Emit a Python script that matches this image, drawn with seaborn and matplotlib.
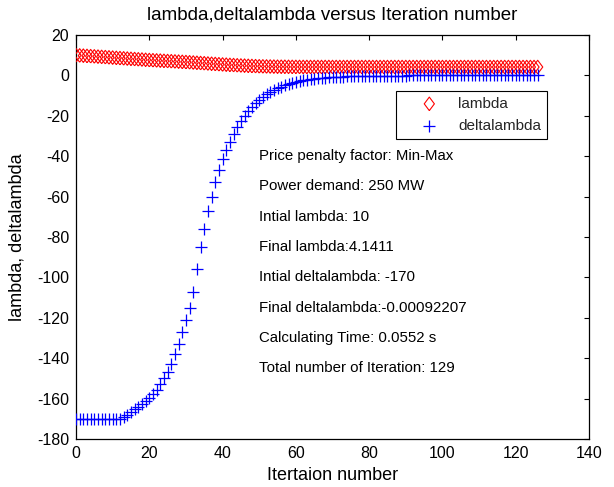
import numpy as np
import pandas as pd
import matplotlib
matplotlib.use("Agg")
import matplotlib.pyplot as plt
import seaborn as sns

# Iteration index and the two tracked quantities
iterations = np.arange(0, 127)

lambda_vals = [
    10.0, 9.88, 9.76, 9.64, 9.52, 9.40, 9.28, 9.16, 9.04, 8.92,
    8.80, 8.68, 8.56, 8.44, 8.32, 8.20, 8.08, 7.96, 7.84, 7.72,
    7.60, 7.50, 7.40, 7.30, 7.20, 7.10, 7.00, 6.90, 6.80, 6.70,
    6.60, 6.48, 6.36, 6.24, 6.12, 6.00, 5.88, 5.76, 5.64, 5.52,
    5.40, 5.30, 5.20, 5.10, 5.00, 4.90, 4.82, 4.74, 4.66, 4.58,
    4.50, 4.46, 4.42, 4.38, 4.34, 4.30, 4.28, 4.26, 4.24, 4.22,
    4.20, 4.19, 4.185, 4.18, 4.175, 4.17, 4.168, 4.165, 4.163, 4.16,
    4.158, 4.157, 4.156, 4.155, 4.154, 4.153, 4.152, 4.151, 4.150, 4.149,
    4.148, 4.147, 4.147, 4.146, 4.146, 4.145, 4.145, 4.144, 4.144, 4.144,
    4.143, 4.143, 4.143, 4.143, 4.143, 4.143, 4.143, 4.143, 4.143, 4.143,
    4.142, 4.142, 4.142, 4.142, 4.142, 4.142, 4.142, 4.142, 4.142, 4.142,
    4.1415, 4.1415, 4.1415, 4.1415, 4.1415, 4.1415, 4.1415, 4.1415, 4.1415, 4.1415,
    4.1412, 4.1412, 4.1411, 4.1411, 4.1411, 4.1411, 4.1411,
]

deltalambda_vals = [
    -170, -170, -170, -170, -170, -170, -170, -170, -170, -170,
    -170, -170, -170, -169, -168, -166.5, -165, -164, -162.5, -161,
    -159.5, -157.5, -155.5, -153, -150, -147, -143, -138, -133, -127,
    -121, -115, -107, -96, -85, -76, -67, -60, -53, -47,
    -41.5, -37, -33, -29, -25.5, -22.5, -20, -17.5, -15.5, -13.5,
    -12, -10.5, -9.3, -8.2, -7.2, -6.3, -5.5, -4.8, -4.2, -3.7,
    -3.2, -2.8, -2.45, -2.15, -1.9, -1.65, -1.45, -1.25, -1.1, -0.95,
    -0.83, -0.72, -0.63, -0.55, -0.48, -0.42, -0.37, -0.32, -0.28, -0.24,
    -0.21, -0.18, -0.16, -0.14, -0.12, -0.105, -0.09, -0.08, -0.07, -0.06,
    -0.052, -0.045, -0.04, -0.035, -0.03, -0.026, -0.023, -0.02, -0.017, -0.015,
    -0.013, -0.011, -0.0097, -0.0085, -0.0074, -0.0064, -0.0056, -0.0049, -0.0043, -0.0037,
    -0.0032, -0.0028, -0.0025, -0.0022, -0.0019, -0.0017, -0.0015, -0.0013, -0.0012, -0.0011,
    -0.00105, -0.001, -0.00098, -0.00096, -0.00094, -0.00093, -0.00092207,
]

info_lines = [
    "Price penalty factor: Min-Max",
    "Power demand: 250 MW",
    "Intial lambda: 10",
    "Final lambda:4.1411",
    "Intial deltalambda: -170",
    "Final deltalambda:-0.00092207",
    "Calculating Time: 0.0552 s",
    "Total number of Iteration: 129",
]
info_y = [-40, -55, -70, -85, -100, -115, -130, -145]

x_ticks = [0, 20, 40, 60, 80, 100, 120, 140]
y_ticks = [-180, -160, -140, -120, -100, -80, -60, -40, -20, 0, 20]

df = pd.DataFrame({"iter": iterations, "lambda": lambda_vals,
                   "deltalambda": deltalambda_vals})

sns.set_theme(style="white")
plt.rcParams["font.family"] = ["Liberation Sans", "DejaVu Sans"]
plt.rcParams["axes.unicode_minus"] = False

fig = plt.figure(figsize=(6.14, 4.87), dpi=100)
ax = fig.add_axes([76 / 614, 48 / 487, 513 / 614, 404 / 487])

diamond = [(0, -1), (0.75, 0), (0, 1), (-0.75, 0), (0, -1)]

sns.scatterplot(data=df, x="iter", y="lambda", ax=ax, marker=diamond,
                s=95, facecolors="none", edgecolor="red", linewidth=0.8,
                label="lambda", zorder=3)
sns.scatterplot(data=df, x="iter", y="deltalambda", ax=ax, marker="+",
                s=75, color="blue", linewidth=0.9,
                label="deltalambda", zorder=3)

ax.set_xlim(0, 140)
ax.set_ylim(-180, 20)
ax.set_xticks(x_ticks)
ax.set_yticks(y_ticks)
ax.tick_params(direction="in", top=True, right=True, length=3.5, width=0.8,
               labelsize=11.5, colors="black", pad=5)
for sp in ax.spines.values():
    sp.set_color("black")
    sp.set_linewidth(0.9)

for txt, yv in zip(info_lines, info_y):
    ax.text(50, yv, txt, fontsize=10.8, va="center", ha="left", color="black")

ax.set_title("lambda,deltalambda versus Iteration number", fontsize=13.5,
             pad=11, color="black")
ax.set_xlabel("Itertaion number", fontsize=13, color="black", labelpad=4)
ax.set_ylabel("lambda, deltalambda", fontsize=13, color="black", labelpad=8)

leg = ax.legend(loc="upper right", bbox_to_anchor=(0.919, 0.862),
                frameon=True, fancybox=False, edgecolor="black",
                framealpha=1, fontsize=11, borderpad=0.4,
                handlelength=3.6, handletextpad=0.1, borderaxespad=0,
                labelspacing=0.55)
leg.get_frame().set_linewidth(0.8)

fig.savefig("out.png", dpi=100)
